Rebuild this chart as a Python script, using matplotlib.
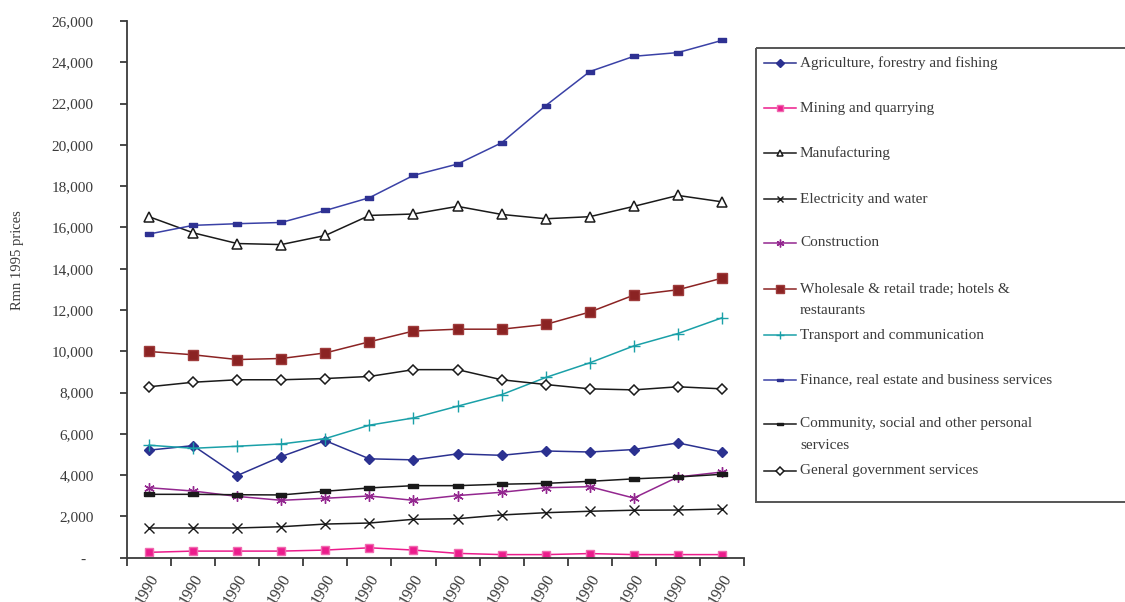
import matplotlib
matplotlib.use("Agg")
import matplotlib.pyplot as plt
from matplotlib.patches import Rectangle
from matplotlib.lines import Line2D
from matplotlib.ticker import FuncFormatter, FixedLocator
from matplotlib.transforms import ScaledTranslation, blended_transform_factory

plt.rcParams['font.family'] = ['Liberation Serif', 'DejaVu Serif']

# Output by sector, Rmn at 1995 prices
year_labels = ["1990", "1990", "1990", "1990", "1990", "1990", "1990",
               "1990", "1990", "1990", "1990", "1990", "1990", "1990"]

agriculture = [5210, 5430, 3980, 4900, 5670, 4790, 4740, 5030, 4960, 5170, 5120, 5240, 5560, 5120]
mining = [260, 320, 320, 320, 370, 480, 370, 210, 150, 150, 200, 150, 150, 150]
manufacturing = [16520, 15740, 15220, 15170, 15610, 16580, 16650, 17020, 16630, 16420, 16520, 17020, 17550, 17240]
electricity = [1440, 1440, 1440, 1500, 1630, 1680, 1860, 1890, 2070, 2180, 2250, 2300, 2310, 2360]
construction = [3390, 3230, 2970, 2780, 2880, 2990, 2780, 3010, 3170, 3390, 3440, 2890, 3910, 4150]
wholesale = [9990, 9830, 9600, 9650, 9920, 10460, 10980, 11070, 11070, 11300, 11900, 12720, 12980, 13540]
transport = [5450, 5300, 5400, 5510, 5770, 6420, 6770, 7340, 7900, 8730, 9440, 10260, 10860, 11620]
finance = [15680, 16100, 16180, 16240, 16820, 17440, 18520, 19070, 20100, 21900, 23550, 24290, 24470, 25060]
community = [3070, 3070, 3050, 3040, 3220, 3380, 3490, 3490, 3560, 3600, 3700, 3820, 3910, 4040]
government = [8280, 8500, 8620, 8620, 8680, 8780, 9110, 9110, 8620, 8390, 8180, 8130, 8280, 8180]

# flat rectangle markers (Excel style "dash" markers)
wide_rect = [(-1, -0.42), (1, -0.42), (1, 0.42), (-1, 0.42), (-1, -0.42)]
asterisk = (6, 2, 0)

series = [
    ("Agriculture, forestry and fishing", agriculture,
     dict(color="#2B3190", marker="D", ms=5.5, mfc="#2B3190", mec="#2B3190")),
    ("Mining and quarrying", mining,
     dict(color="#EC1C8C", marker="s", ms=5.8, mfc="#EC1C8C", mec="#F06AB0")),
    ("Manufacturing", manufacturing,
     dict(color="#1A1A1A", marker="^", ms=6.5, mfc="white", mec="#1A1A1A", mew=1.1)),
    ("Electricity and water", electricity,
     dict(color="#1A1A1A", marker="x", ms=6.5, mec="#1A1A1A", mew=1.0)),
    ("Construction", construction,
     dict(color="#93278F", marker=asterisk, ms=7.5, mec="#93278F", mew=1.0)),
    ("Wholesale & retail trade; hotels &\nrestaurants", wholesale,
     dict(color="#8B2323", marker="s", ms=6.8, mfc="#8B2323", mec="#9E3B3B")),
    ("Transport and communication", transport,
     dict(color="#1AA0A8", marker="+", ms=8.5, mec="#1AA0A8", mew=1.0)),
    ("Finance, real estate and business services", finance,
     dict(color="#3A41A6", marker=wide_rect, ms=5.5, mfc="#2E3192", mec="#2E3192")),
    ("Community, social and other personal\nservices", community,
     dict(color="#1A1A1A", marker=wide_rect, ms=6.5, mfc="#1A1A1A", mec="#1A1A1A")),
    ("General government services", government,
     dict(color="#1A1A1A", marker="D", ms=5.5, mfc="white", mec="#1A1A1A", mew=1.1)),
]

fig = plt.figure(figsize=(11.25, 6.02), dpi=100)
ax = fig.add_axes([127 / 1125, 1 - 557.7 / 602, (744 - 127) / 1125, (557.7 - 21) / 602])

x = list(range(len(year_labels)))
for name, values, style in series:
    ax.plot(x, values, lw=1.1, **style)

axis_col = "#3A3A3A"
text_col = "#3A3A3A"
ax.set_xlim(-0.5, len(year_labels) - 0.5)
ax.set_ylim(0, 26000)
ax.set_yticks(range(0, 26001, 2000))
ax.yaxis.set_major_formatter(FuncFormatter(lambda v, p: "-  " if v == 0 else f"{int(v):,}"))
ax.xaxis.set_major_locator(FixedLocator([i - 0.5 for i in range(len(year_labels) + 1)]))
ax.set_xticklabels([])
for side in ("top", "right"):
    ax.spines[side].set_visible(False)
for side in ("left", "bottom"):
    ax.spines[side].set_color(axis_col)
    ax.spines[side].set_linewidth(1.3)
ax.tick_params(axis="y", direction="out", length=5, width=1.3, color=axis_col,
               pad=19, labelsize=11, labelcolor=text_col)
ax.tick_params(axis="x", direction="out", length=6, width=1.3, color=axis_col)

# rotated category labels under each point
lab_tr = blended_transform_factory(ax.transData, ax.transAxes) + \
    ScaledTranslation(-1 / 100, -14 / 100, fig.dpi_scale_trans)
for xi, lab in zip(x, year_labels):
    ax.text(xi, 0, lab, transform=lab_tr, rotation=60, rotation_mode="anchor",
            ha="right", va="top", fontsize=11.5, color=text_col, clip_on=False)

fig.text(18 / 1125, 1 - 260 / 602, "Rmn 1995 prices", rotation=90, ha="center",
         va="center", fontsize=10.5, color=text_col)

# legend panel drawn in pixel coordinates
lax = fig.add_axes([0, 0, 1, 1], zorder=5)
lax.set_xlim(0, 1125)
lax.set_ylim(602, 0)
lax.axis("off")
lax.add_patch(Rectangle((756, 48), 400, 454, fill=False, edgecolor="#555555", lw=1.4))
entry_y = [63.3, 108.3, 153.3, 199, 242.7, 289.3, 335, 380, 424, 470.7]
for (name, values, style), ey in zip(series, entry_y):
    mk = {k: v for k, v in style.items() if k != "color"}
    mk["ms"] = mk["ms"] * 0.75
    lax.add_line(Line2D([764, 796], [ey, ey], lw=1.1, color=style["color"]))
    lax.add_line(Line2D([780], [ey], lw=0, **mk))
    for j, line in enumerate(name.split("\n")):
        lax.text(800, ey + j * 21.7, line, ha="left", va="center", fontsize=11, color=text_col)

fig.savefig("out.png", dpi=100)
